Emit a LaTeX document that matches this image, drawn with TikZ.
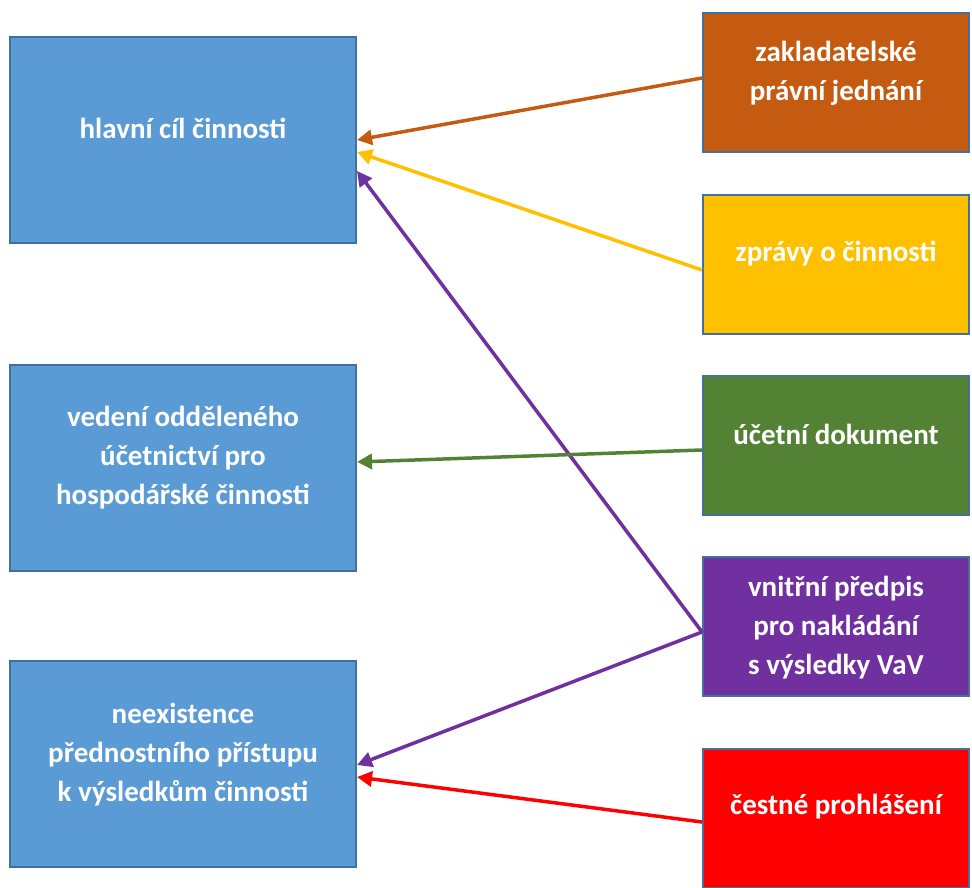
\documentclass[tikz,border=0pt]{standalone}
\usepackage{fontspec}
\setmainfont{Carlito}
\usetikzlibrary{arrows.meta}
\definecolor{boxblue}{HTML}{5B9BD5}
\definecolor{edgeblue}{HTML}{41719C}
\definecolor{zakladcol}{HTML}{C55A11}
\definecolor{zpravycol}{HTML}{FFC000}
\definecolor{dokumentcol}{HTML}{548235}
\definecolor{predpiscol}{HTML}{7030A0}
\definecolor{prohlasenicol}{HTML}{FF0000}

\begin{document}
\begin{tikzpicture}[x=1pt,y=-1pt,
  box/.style={rectangle,draw=edgeblue,line width=2pt,inner sep=0pt},
  leftbox/.style={box,fill=boxblue,minimum width=346pt,minimum height=206pt},
  rightbox/.style={box,minimum width=266pt,minimum height=139pt},
  txt/.style={text=white,font=\fontsize{29}{39}\selectfont\bfseries,align=center},
  link/.style={line width=3.5pt,-{Triangle[length=15pt,width=15pt]}}]
\useasboundingbox (0,0) rectangle (972,888);
% Left boxes
\node at (183,140) [leftbox] (cil) {};
\node at (183,468) [leftbox] (ucetnictvi) {};
\node at (183,764) [leftbox] (pristup) {};
% Right boxes
\node at (836,82.5) [rightbox,fill=zakladcol] (zaklad) {};
\node at (836,264.5) [rightbox,fill=zpravycol] (zpravy) {};
\node at (836,445.5) [rightbox,fill=dokumentcol] (dokument) {};
\node at (836,626.5) [rightbox,fill=predpiscol] (predpis) {};
\node at (836,818.5) [rightbox,fill=prohlasenicol] (prohlaseni) {};
% Box Texts
\node at (183,128) [txt] (cil-t) {hlavní cíl činnosti};
\node at (183,458) [txt] (ucetnictvi-t) {vedení odděleného\\účetnictví pro\\hospodářské činnosti};
\node at (183,755) [txt] (pristup-t) {neexistence\\přednostního přístupu\\k výsledkům činnosti};
\node at (836,73) [txt] (zaklad-t) {zakladatelské\\právní jednání};
\node at (836,254) [txt] (zpravy-t) {zprávy o činnosti};
\node at (836,434) [txt] (dokument-t) {účetní dokument};
\node at (836,628) [txt] (predpis-t) {vnitřní předpis\\pro nakládání\\s výsledky VaV};
\node at (836,807) [txt] (prohlaseni-t) {čestné prohlášení};
% Connections
\coordinate (predpis-out) at ([yshift=-5.5pt]predpis.west);
\draw [link,zakladcol] ([yshift=4.5pt]zaklad.west) -- (cil.east);
\draw [link,zpravycol] ([yshift=-5.5pt]zpravy.west) -- ([yshift=-12pt]cil.east);
\draw [link,predpiscol] (predpis-out) -- ([yshift=-31pt]cil.east);
\draw [link,dokumentcol] ([yshift=-4.5pt]dokument.west) -- ([yshift=6pt]ucetnictvi.east);
\draw [link,predpiscol] (predpis-out) -- ([yshift=-1pt]pristup.east);
\draw [link,prohlasenicol] ([yshift=-3.5pt]prohlaseni.west) -- ([yshift=-13pt]pristup.east);
\end{tikzpicture}
\end{document}
